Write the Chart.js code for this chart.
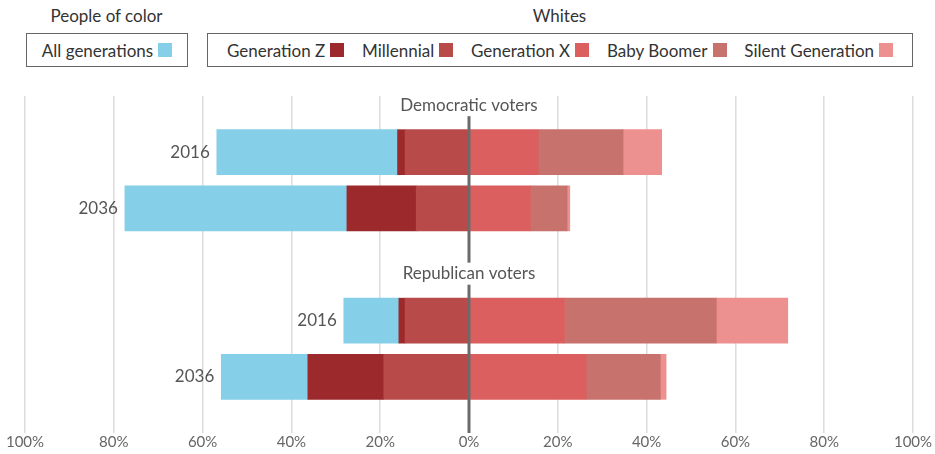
<!DOCTYPE html>
<html>
<head>
<meta charset="utf-8">
<script src="https://cdn.jsdelivr.net/npm/chart.js@4"></script>
<style>
  body { margin: 0; width: 935px; height: 454px; overflow: hidden; background: #fff; font-family: Lato, sans-serif; color: #333; position: relative; }
  .head { position: absolute; top: 5px; font-size: 17px; text-align: center; }
  .box { position: absolute; top: 33px; height: 34px; border: 1px solid #666; box-sizing: border-box; display: flex; align-items: center; font-size: 17px; }
  .item { display: flex; align-items: center; white-space: nowrap; }
  .sw { display: inline-block; width: 14px; height: 14px; margin-left: 5px; }
  #wrap { position: absolute; left: 0; top: 90px; width: 935px; height: 361px; }
</style>
</head>
<body>
<div class="head" style="left:26px;width:161px;">People of color</div>
<div class="head" style="left:207px;width:705px;">Whites</div>
<div class="box" style="left:26px;width:162px;justify-content:center;">
  <span class="item">All generations<span class="sw" style="background:#86cfe8"></span></span>
</div>
<div class="box" style="left:207px;width:706px;justify-content:space-around;padding:0 10px;">
  <span class="item">Generation Z<span class="sw" style="background:#9c2a2d"></span></span>
  <span class="item">Millennial<span class="sw" style="background:#b84a4a"></span></span>
  <span class="item">Generation X<span class="sw" style="background:#dc5f5f"></span></span>
  <span class="item">Baby Boomer<span class="sw" style="background:#c7726d"></span></span>
  <span class="item">Silent Generation<span class="sw" style="background:#ed9190"></span></span>
</div>
<div id="wrap"><canvas id="myChart"></canvas></div>
<script>
// share of voters, percent
const groups = ['Democratic voters', 'Republican voters'];
const years = ['2016', '2036', '2016', '2036'];
const allGenerations = [40.7, 50.0, 12.4, 19.5];   // people of color
const genZ = [1.7, 15.6, 1.4, 17.1];
const millennial = [14.4, 11.9, 14.4, 19.2];
const genX = [15.6, 13.8, 21.5, 26.4];
const boomer = [19.1, 8.3, 34.2, 16.7];
const silent = [8.7, 0.6, 16.1, 1.3];
const tickValues = [-100, -80, -60, -40, -20, 0, 20, 40, 60, 80, 100];

// rows: group title, two years, group title, two years, spacer
const rows = ['', years[0], years[1], '', years[2], years[3], ''];
const toRows = (v, sign) => [null, sign * v[0], sign * v[1], null, sign * v[2], sign * v[3], null];

const groupLabels = {
    id: 'groupLabels',
    afterDatasetsDraw(chart) {
        const ctx = chart.ctx;
        const area = chart.chartArea;
        const x0 = chart.scales.x.getPixelForValue(0);
        const y = chart.scales.y;

        ctx.save();
        // zero line sits on top of the bars
        ctx.strokeStyle = '#6b6b6b';
        ctx.lineWidth = 3;
        ctx.beginPath();
        ctx.moveTo(x0, area.top);
        ctx.lineTo(x0, area.bottom);
        ctx.stroke();

        ctx.font = '17px Lato, sans-serif';
        ctx.textBaseline = 'middle';
        [0, 3].forEach((row, i) => {
            const cy = y.getPixelForValue(row + 1) - 47;
            const w = ctx.measureText(groups[i]).width;
            ctx.fillStyle = '#fff';
            ctx.fillRect(x0 - w / 2 - 4, cy - 11, w + 8, 22);
            ctx.fillStyle = '#555';
            ctx.textAlign = 'center';
            ctx.fillText(groups[i], x0, cy);
        });

        // year labels next to the left end of each bar
        const meta = chart.getDatasetMeta(2);
        ctx.textAlign = 'right';
        ctx.fillStyle = '#555';
        meta.data.forEach((el, i) => {
            if (!rows[i]) return;
            ctx.fillText(rows[i], el.x - 7, el.y);
        });
        ctx.restore();
    }
};

const ctx = document.getElementById('myChart').getContext('2d');
new Chart(ctx, {
    type: 'bar',
    data: {
        labels: rows,
        datasets: [
            { label: 'Millennial', data: toRows(millennial, -1), backgroundColor: '#b84a4a' },
            { label: 'Generation Z', data: toRows(genZ, -1), backgroundColor: '#9c2a2d' },
            { label: 'All generations', data: toRows(allGenerations, -1), backgroundColor: '#86cfe8' },
            { label: 'Generation X', data: toRows(genX, 1), backgroundColor: '#dc5f5f' },
            { label: 'Baby Boomer', data: toRows(boomer, 1), backgroundColor: '#c7726d' },
            { label: 'Silent Generation', data: toRows(silent, 1), backgroundColor: '#ed9190' }
        ]
    },
    options: {
        indexAxis: 'y',
        animation: false,
        responsive: true,
        maintainAspectRatio: false,
        barThickness: 45,
        layout: { padding: { top: 6, left: 25, right: 22, bottom: 0 } },
        scales: {
            x: {
                stacked: true,
                min: -100,
                max: 100,
                afterBuildTicks: axis => { axis.ticks = tickValues.map(v => ({ value: v })); },
                border: { display: false },
                grid: { color: '#dcdcdc', lineWidth: 1.5, drawTicks: false },
                ticks: {
                    color: '#666',
                    padding: 0,
                    font: { family: 'Lato', size: 15 },
                    callback: v => Math.abs(v) + '%'
                }
            },
            y: {
                stacked: true,
                display: false,
                offset: false
            }
        },
        plugins: {
            legend: { display: false },
            tooltip: { enabled: false }
        }
    },
    plugins: [groupLabels]
});
</script>
</body>
</html>
